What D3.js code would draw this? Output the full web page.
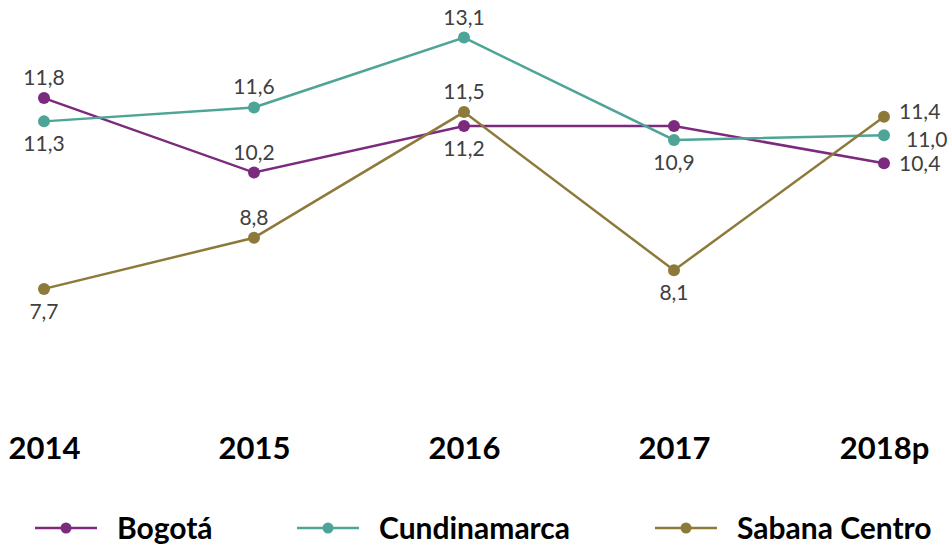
<!DOCTYPE html>
<html>
<head>
<meta charset="utf-8">
<script src="https://cdn.jsdelivr.net/npm/d3@7"></script>
<style>
  html, body { margin: 0; padding: 0; background: #ffffff; }
  svg { display: block; }
  .val { font-family: "Source Sans Pro", Lato, "Noto Sans", sans-serif; font-size: 21px; fill: #404040; }
  .axis-lbl { font-family: "Source Sans Pro", "Liberation Sans Narrow", Lato, sans-serif; font-weight: 700; font-size: 31px; fill: #000; }
  .leg-lbl { font-family: "Source Sans Pro", "Liberation Sans Narrow", Lato, sans-serif; font-weight: 700; font-size: 30px; fill: #000; }
</style>
</head>
<body>
<svg id="chart" width="950" height="545"></svg>
<script>
// Years shown on the horizontal axis
const years = ["2014", "2015", "2016", "2017", "2018p"];

// Series values (%)
const bogota = [11.8, 10.2, 11.2, 11.2, 10.4];
const cundinamarca = [11.3, 11.6, 13.1, 10.9, 11.0];
const sabanaCentro = [7.7, 8.8, 11.5, 8.1, 11.4];

// Where each value label sits relative to its point ("" = no label)
const bogotaLabelPos = ["above", "above", "below", "", "right"];
const cundinamarcaLabelPos = ["below", "above", "above", "below", "rightLow"];
const sabanaCentroLabelPos = ["below", "above", "above", "below", "rightHigh"];

const series = [
  { name: "Bogotá", values: bogota, pos: bogotaLabelPos, color: "#7b2a7d" },
  { name: "Cundinamarca", values: cundinamarca, pos: cundinamarcaLabelPos, color: "#4ea597" },
  { name: "Sabana Centro", values: sabanaCentro, pos: sabanaCentroLabelPos, color: "#8d7a3b" }
];

// Label offsets (dx, dy from point centre, text anchor) per placement
const placements = {
  above:     { dx: 0,  dy: -13, anchor: "middle" },
  below:     { dx: 0,  dy: 30,  anchor: "middle" },
  right:     { dx: 15, dy: 8,   anchor: "start" },
  rightLow:  { dx: 22, dy: 12,  anchor: "start" },
  rightHigh: { dx: 15, dy: 2,   anchor: "start" }
};

const svg = d3.select("#chart");

const x = d3.scalePoint().domain(years).range([44, 884]);
const y = d3.scaleLinear().domain([6, 13.5]).range([368, 19]);

const fmt = v => d3.format(".1f")(v).replace(".", ",");

// Category labels along the bottom
const xAxis = d3.axisBottom(x).tickSize(0).tickPadding(0);
const gx = svg.append("g").attr("transform", "translate(0,436)").call(xAxis);
gx.select(".domain").remove();
gx.selectAll("text")
  .attr("class", "axis-lbl")
  .attr("dy", "0.75em")
  .attr("font-size", null)
  .attr("font-family", null);

const line = d3.line().x((d, i) => x(years[i])).y(d => y(d));

// Lines, markers and value labels
series.forEach(s => {
  const g = svg.append("g");
  g.append("path")
    .datum(s.values)
    .attr("fill", "none")
    .attr("stroke", s.color)
    .attr("stroke-width", 2.5)
    .attr("d", line);
  g.selectAll("circle")
    .data(s.values)
    .join("circle")
    .attr("cx", (d, i) => x(years[i]))
    .attr("cy", d => y(d))
    .attr("r", 6)
    .attr("fill", s.color);
  g.selectAll("text")
    .data(s.values.map((v, i) => ({ v, i, p: placements[s.pos[i]] })).filter(d => d.p))
    .join("text")
    .attr("class", "val")
    .attr("x", d => x(years[d.i]) + d.p.dx)
    .attr("y", d => y(d.v) + d.p.dy)
    .attr("text-anchor", d => d.p.anchor)
    .text(d => fmt(d.v));
});

// Legend
const legendX = [35, 297, 655];
const leg = svg.append("g").attr("transform", "translate(0,528)");
series.forEach((s, i) => {
  const g = leg.append("g").attr("transform", `translate(${legendX[i]},0)`);
  g.append("line").attr("x1", 0).attr("x2", 62).attr("stroke", s.color).attr("stroke-width", 2.5);
  g.append("circle").attr("cx", 31).attr("r", 5.5).attr("fill", s.color);
  g.append("text").attr("class", "leg-lbl").attr("x", 82).attr("y", 11).text(s.name);
});
</script>
</body>
</html>
